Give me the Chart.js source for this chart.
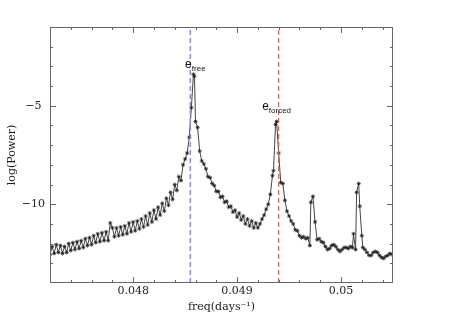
<!DOCTYPE html>
<html>
<head>
<meta charset="utf-8">
<script src="https://cdn.jsdelivr.net/npm/chart.js@4"></script>
<style>
  html, body { margin: 0; padding: 0; background: #fff; }
  #wrap { width: 449px; height: 317px; }
</style>
</head>
<body>
<div id="wrap"><canvas id="powerChart"></canvas></div>
<script>
// frequency samples (days^-1)
const freq = [
  0.04720, 0.04722, 0.04724, 0.04726, 0.04728, 0.04730, 0.04732, 0.04734, 0.04736, 0.04738,
  0.04740, 0.04742, 0.04744, 0.04746, 0.04748, 0.04750, 0.04752, 0.04754, 0.04756, 0.04758,
  0.04760, 0.04762, 0.04764, 0.04766, 0.04768, 0.04770, 0.04772, 0.04774, 0.04776, 0.04778,
  0.04780, 0.04782, 0.04784, 0.04786, 0.04788, 0.04790, 0.04792, 0.04794, 0.04796, 0.04798,
  0.04800, 0.04802, 0.04804, 0.04806, 0.04808, 0.04810, 0.04812, 0.04814, 0.04816, 0.04818,
  0.04820, 0.04822, 0.04824, 0.04826, 0.04828, 0.04830, 0.04832, 0.04834, 0.04836, 0.04838,
  0.04840, 0.04842, 0.04844, 0.04846, 0.04848, 0.04850, 0.04852, 0.04854, 0.04856, 0.04858,
  0.04859, 0.04860, 0.04862, 0.04864, 0.04866, 0.04868, 0.04870, 0.04872, 0.04874, 0.04876,
  0.04878, 0.04880, 0.04882, 0.04884, 0.04886, 0.04888, 0.04890, 0.04892, 0.04894, 0.04896,
  0.04898, 0.04900, 0.04902, 0.04904, 0.04906, 0.04908, 0.04910, 0.04912, 0.04914, 0.04916,
  0.04918, 0.04920, 0.04922, 0.04924, 0.04926, 0.04928, 0.04930, 0.04932, 0.04934, 0.04935,
  0.04937, 0.04938, 0.04940, 0.04942, 0.04944, 0.04946, 0.04948, 0.04950, 0.04952, 0.04954,
  0.04956, 0.04958, 0.04960, 0.04962, 0.04964, 0.04966, 0.04968, 0.04970, 0.04971, 0.04973,
  0.04975, 0.04977, 0.04979, 0.04981, 0.04983, 0.04985, 0.04987, 0.04989, 0.04991, 0.04993,
  0.04995, 0.04997, 0.04999, 0.05001, 0.05003, 0.05005, 0.05007, 0.05009, 0.05011, 0.05012,
  0.05014, 0.05015, 0.05017, 0.05018, 0.05020, 0.05021, 0.05023, 0.05025, 0.05027, 0.05029,
  0.05031, 0.05033, 0.05035, 0.05037, 0.05039, 0.05041, 0.05043, 0.05045, 0.05047, 0.05049
];

// log(Power) at each frequency
const logPower = [
  -12.55, -12.15, -12.5, -12.05, -12.45, -12.1, -12.5, -12.15, -12.45, -12.0,
  -12.35, -11.95, -12.3, -11.9, -12.25, -11.85, -12.2, -11.75, -12.1, -11.7,
  -12.05, -11.6, -11.95, -11.5, -11.9, -11.45, -11.85, -11.4, -11.85, -10.95,
  -11.2, -11.65, -11.2, -11.6, -11.15, -11.55, -11.1, -11.5, -10.95, -11.4,
  -10.9, -11.35, -10.85, -11.25, -10.75, -11.15, -10.6, -11.05, -10.45, -10.9,
  -10.3, -10.75, -10.15, -10.55, -9.95, -10.35, -9.7, -10.05, -9.4, -9.75,
  -9.0, -9.3, -8.6, -8.8, -8.0, -7.7, -7.4, -6.6, -5.1, -3.4,
  -3.5, -5.8, -6.1, -7.3, -7.8, -7.95, -8.2, -8.6, -8.65, -8.95,
  -9.05, -9.35, -9.35, -9.65, -9.6, -9.9, -9.85, -10.15, -10.1, -10.4,
  -10.3, -10.65, -10.45, -10.8, -10.6, -11.0, -10.75, -11.1, -10.85, -11.2,
  -10.95, -11.2, -11.0, -10.75, -10.55, -10.25, -10.0, -9.5, -8.55, -8.3,
  -5.95, -5.8, -7.4, -8.9, -8.95, -9.8, -10.35, -10.6, -10.85, -11.0,
  -11.3, -11.35, -11.6, -11.7, -11.65, -11.75, -11.7, -12.1, -9.9, -9.6,
  -10.9, -11.8, -11.75, -11.9, -11.95, -12.15, -12.3, -12.25, -12.1, -12.05,
  -12.15, -12.3, -12.4, -12.3, -12.2, -12.2, -12.25, -12.15, -12.2, -11.5,
  -12.3, -9.4, -8.95, -10.1, -11.6, -12.2, -12.3, -12.45, -12.6, -12.6,
  -12.45, -12.4, -12.45, -12.6, -12.7, -12.75, -12.65, -12.6, -12.5, -12.55
];

// e_free and e_forced frequencies (dashed markers)
const eFreeFreq = 0.04855;
const eForcedFreq = 0.0494;

const xTickValues = [0.048, 0.049, 0.05];
const xTickLabels = ['0.048', '0.049', '0.05'];
const yTickValues = [-10, -5];
const yTickLabels = ['\u221210', '\u22125'];

const labelMarks = [
  { text: 'e', sub: 'free', x: 0.04850, y: -3.07 },
  { text: 'e', sub: 'forced', x: 0.049241, y: -5.2 }
];

const xMin = 0.0472, xMax = 0.0505;
const yMin = -14, yMax = -1;

const serif = "'DejaVu Serif', serif";

// frame + inward ticks on all four sides, PGPLOT style
const frameTicks = {
    id: 'frameTicks',
    afterDraw: chart => {
        const { ctx, chartArea } = chart;
        const xs = chart.scales.x, ys = chart.scales.y;
        ctx.save();
        ctx.strokeStyle = '#666';
        ctx.lineWidth = 1;
        ctx.strokeRect(chartArea.left + 0.5, chartArea.top + 0.5,
            chartArea.width - 1, chartArea.height - 1);
        ctx.beginPath();
        for (let i = 0; i <= 20; i++) {
            const v = 0.0472 + i * 0.0002;
            if (v > xMax + 1e-9) break;
            const major = Math.abs(v * 1000 - Math.round(v * 1000)) < 1e-6;
            const len = major ? 6 : 3;
            const px = Math.round(xs.getPixelForValue(v)) + 0.5;
            ctx.moveTo(px, chartArea.bottom);
            ctx.lineTo(px, chartArea.bottom - len);
            ctx.moveTo(px, chartArea.top);
            ctx.lineTo(px, chartArea.top + len);
        }
        for (let v = yMin + 1; v < yMax; v++) {
            const major = v % 5 === 0;
            const len = major ? 6 : 3;
            const py = Math.round(ys.getPixelForValue(v)) + 0.5;
            ctx.moveTo(chartArea.left, py);
            ctx.lineTo(chartArea.left + len, py);
            ctx.moveTo(chartArea.right, py);
            ctx.lineTo(chartArea.right - len, py);
        }
        ctx.stroke();

        // e_free / e_forced labels
        ctx.fillStyle = '#111';
        ctx.textBaseline = 'alphabetic';
        labelMarks.forEach(m => {
            const px = xs.getPixelForValue(m.x);
            const py = ys.getPixelForValue(m.y);
            ctx.font = "12px 'Liberation Sans', sans-serif";
            ctx.fillText(m.text, px, py);
            const w = ctx.measureText(m.text).width;
            ctx.font = "8px 'Liberation Sans', sans-serif";
            ctx.fillText(m.sub, px + w, py + 3);
        });
        ctx.restore();
    }
};

const points = freq.map((f, i) => ({ x: f, y: logPower[i] }));

const ctx = document.getElementById('powerChart').getContext('2d');

new Chart(ctx, {
    type: 'line',
    data: {
        datasets: [{
            data: points,
            borderColor: '#444',
            borderWidth: 1,
            pointStyle: 'star',
            pointRadius: 2,
            pointBorderColor: '#222',
            pointBorderWidth: 0.8,
            tension: 0,
            order: 2
        }, {
            data: [{ x: eFreeFreq, y: yMin }, { x: eFreeFreq, y: yMax }],
            borderColor: '#8a8af0',
            borderWidth: 1.5,
            borderDash: [5, 3],
            pointRadius: 0,
            order: 1
        }, {
            data: [{ x: eForcedFreq, y: yMin }, { x: eForcedFreq, y: yMax }],
            borderColor: '#ee5555',
            borderWidth: 1.2,
            borderDash: [5, 3],
            pointRadius: 0,
            order: 1
        }]
    },
    options: {
        responsive: true,
        maintainAspectRatio: false,
        animation: false,
        layout: { padding: { left: 0, right: 56, top: 27, bottom: 0 } },
        plugins: {
            legend: { display: false },
            tooltip: { enabled: false }
        },
        scales: {
            x: {
                type: 'linear',
                min: xMin,
                max: xMax,
                afterBuildTicks: scale => {
                    scale.ticks = xTickValues.map(v => ({ value: v }));
                },
                afterFit: scale => { scale.height = 34; },
                ticks: {
                    color: '#222',
                    font: { family: serif, size: 11 },
                    padding: 2,
                    maxRotation: 0,
                    callback: v => xTickLabels[xTickValues.indexOf(v)] ?? ''
                },
                grid: { display: false, drawTicks: false },
                border: { display: false },
                title: {
                    display: true,
                    text: 'freq(days\u207B\u00B9)',
                    color: '#222',
                    font: { family: serif, size: 11 },
                    padding: { top: 6, bottom: 3 }
                }
            },
            y: {
                min: yMin,
                max: yMax,
                afterBuildTicks: scale => {
                    scale.ticks = yTickValues.map(v => ({ value: v }));
                },
                afterFit: scale => { scale.width = 50; },
                ticks: {
                    color: '#222',
                    font: { family: serif, size: 11 },
                    padding: 5,
                    crossAlign: 'center',
                    callback: v => yTickLabels[yTickValues.indexOf(v)] ?? ''
                },
                grid: { display: false, drawTicks: false },
                border: { display: false },
                title: {
                    display: true,
                    text: 'log(Power)',
                    color: '#222',
                    font: { family: serif, size: 11 },
                    padding: { top: 6, bottom: 3 }
                }
            }
        }
    },
    plugins: [frameTicks]
});
</script>
</body>
</html>
